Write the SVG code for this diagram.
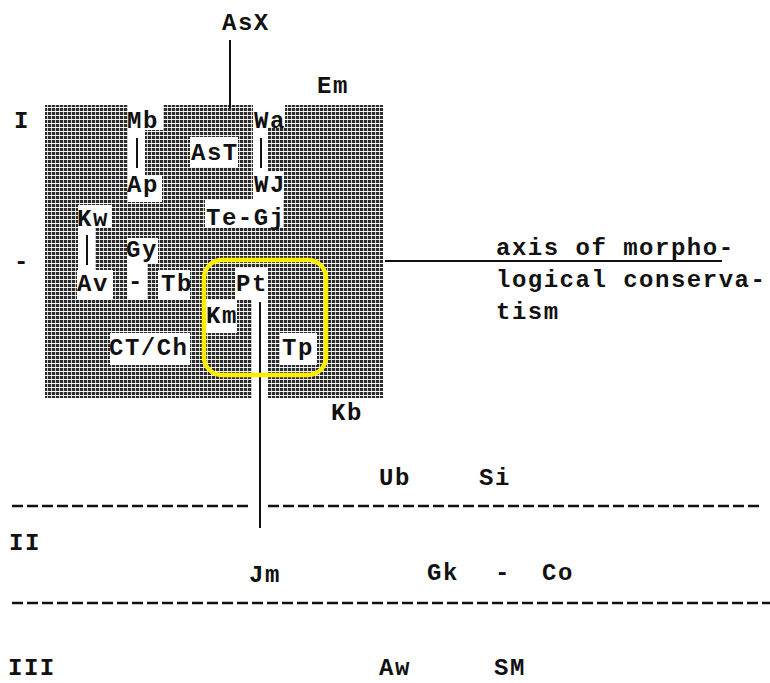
<svg xmlns="http://www.w3.org/2000/svg" width="770" height="683" viewBox="0 0 770 683">
<defs>
<pattern id="screen" width="4" height="4" patternUnits="userSpaceOnUse">
<rect width="4" height="4" fill="#2c2c2c"/>
<rect y="3" width="4" height="1" fill="#fff" opacity="0.95"/>
<rect x="3" width="1" height="4" fill="#fff" opacity="0.75"/>
</pattern>
</defs>
<style>
text{font-family:"Liberation Mono","DejaVu Sans Mono",monospace;font-weight:bold;font-size:24px;letter-spacing:1.5px;fill:#111}
.ln{stroke:#111;stroke-width:2;fill:none}
.dash{stroke:#111;stroke-width:2.5;stroke-dasharray:11 4;fill:none}
.cut{fill:#fff}
</style>
<rect id="screened-area" x="45" y="105" width="338" height="293" fill="url(#screen)"/>
<g id="cutouts" class="cut">
<rect x="128" y="105" width="35" height="25"/>
<rect x="128" y="130" width="17" height="45"/>
<rect x="128" y="175" width="34" height="27"/>
<rect x="190" y="137" width="48" height="30"/>
<rect x="253" y="105" width="32" height="22"/>
<rect x="253" y="127" width="15" height="45"/>
<rect x="253" y="172" width="31" height="28"/>
<rect x="205" y="200" width="78" height="28"/>
<rect x="78" y="205" width="34" height="23"/>
<rect x="78" y="228" width="17" height="42"/>
<rect x="77" y="270" width="36" height="30"/>
<rect x="127" y="238" width="31" height="25"/>
<rect x="127" y="263" width="20" height="37"/>
<rect x="158" y="270" width="32" height="30"/>
<rect x="235" y="268" width="33" height="32"/>
<rect x="252" y="300" width="16" height="98"/>
<rect x="205" y="300" width="32" height="33"/>
<rect x="280" y="333" width="37" height="32"/>
<rect x="110" y="333" width="80" height="32"/>
</g>
<g id="connectors">
<line class="ln" x1="230" y1="40" x2="230" y2="108"/>
<line class="ln" x1="137" y1="138" x2="137" y2="168"/>
<line class="ln" x1="261" y1="138" x2="261" y2="168"/>
<line class="ln" x1="87" y1="235" x2="87" y2="265"/>
<line class="ln" x1="260" y1="302" x2="260" y2="528"/>
<line class="ln" x1="385" y1="261" x2="722" y2="261"/>
<line class="dash" x1="12" y1="506" x2="248" y2="506"/>
<line class="dash" x1="268" y1="506" x2="763" y2="506"/>
<line class="dash" x1="12" y1="603" x2="770" y2="603"/>
</g>
<rect id="highlight" x="204" y="260" width="122" height="115" rx="18" ry="18" fill="none" stroke="#FFEE00" stroke-width="4.5"/>
<g id="n-AsX"><text x="222" y="30">AsX</text></g>
<g id="n-Em"><text x="317" y="93">Em</text></g>
<g id="lvl-I"><text x="14" y="128">I</text></g>
<g id="n-Mb"><text x="127" y="128">Mb</text></g>
<g id="n-Wa"><text x="254" y="128">Wa</text></g>
<g id="n-AsT"><text x="191" y="160">AsT</text></g>
<g id="n-Ap"><text x="127" y="192">Ap</text></g>
<g id="n-WJ"><text x="254" y="192">WJ</text></g>
<g id="n-Kw"><text x="77" y="226">Kw</text></g>
<g id="n-TeGj"><text x="206" y="225">Te-Gj</text></g>
<g id="n-Gy"><text x="126" y="257">Gy</text></g>
<g id="axis-mark"><text x="14" y="269">-</text></g>
<g id="n-Av"><text x="77" y="291">Av</text></g>
<g id="dash-AvTb"><text x="128" y="289">-</text></g>
<g id="n-Tb"><text x="161" y="291">Tb</text></g>
<g id="n-Pt"><text x="236" y="291">Pt</text></g>
<g id="n-Km"><text x="206" y="323">Km</text></g>
<g id="n-CTCh"><text x="109" y="355">CT/Ch</text></g>
<g id="n-Tp"><text x="282" y="355">Tp</text></g>
<g id="n-Kb"><text x="331" y="420">Kb</text></g>
<g id="axis-label">
<text x="496" y="255">axis of morpho-</text>
<text x="496" y="287">logical conserva-</text>
<text x="496" y="319">tism</text>
</g>
<g id="n-Ub"><text x="379" y="485">Ub</text></g>
<g id="n-Si"><text x="479" y="485">Si</text></g>
<g id="lvl-II"><text x="9" y="550">II</text></g>
<g id="n-Jm"><text x="249" y="582">Jm</text></g>
<g id="n-Gk"><text x="427" y="580">Gk</text></g>
<g id="dash-GkCo"><text x="495" y="580">-</text></g>
<g id="n-Co"><text x="542" y="580">Co</text></g>
<g id="lvl-III"><text x="8" y="675">III</text></g>
<g id="n-Aw"><text x="379" y="675">Aw</text></g>
<g id="n-SM"><text x="494" y="675">SM</text></g>
</svg>
